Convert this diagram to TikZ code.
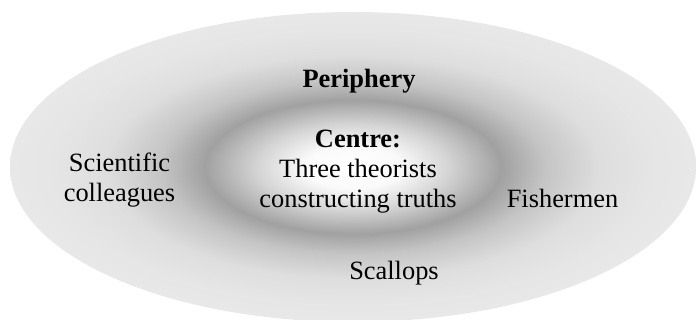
\documentclass[tikz,border=0pt]{standalone}
\usepackage{fontspec}
\setmainfont{Liberation Serif}
\usetikzlibrary{positioning}

% light centre, dark ring, pale grey rim
\pgfdeclareradialshading{halo}{\pgfpoint{0bp}{0bp}}{%
  color(0bp)=(white); color(3.5bp)=(black!2); color(7bp)=(black!17);
  color(10.8bp)=(black!37); color(14bp)=(black!23); color(18bp)=(black!13);
  color(22bp)=(black!10); color(25bp)=(black!9); color(50bp)=(black!9)}

\begin{document}
\begin{tikzpicture}[x=0.5pt, y=-0.5pt,
  lbl/.style={font=\fontsize{13.2}{15}\selectfont, align=center, anchor=base, inner sep=0pt},
  head/.style={lbl, font=\fontsize{13.2}{15}\selectfont\bfseries}
]
\useasboundingbox (0,0) rectangle (696,320);
\shade[shading=halo] (353,167) ellipse [x radius=343, y radius=155];

\node[head] (periphery) at (359,87.5) {Periphery};
\node[lbl] (centre) at (358,208) {\textbf{Centre:}\\Three theorists\\constructing truths};
\node[lbl] (colleagues) at (119.5,202) {Scientific\\colleagues};
\node[lbl] (fishermen) at (562.5,207.5) {Fishermen};
\node[lbl] (scallops) at (394,279.5) {Scallops};
\end{tikzpicture}
\end{document}
